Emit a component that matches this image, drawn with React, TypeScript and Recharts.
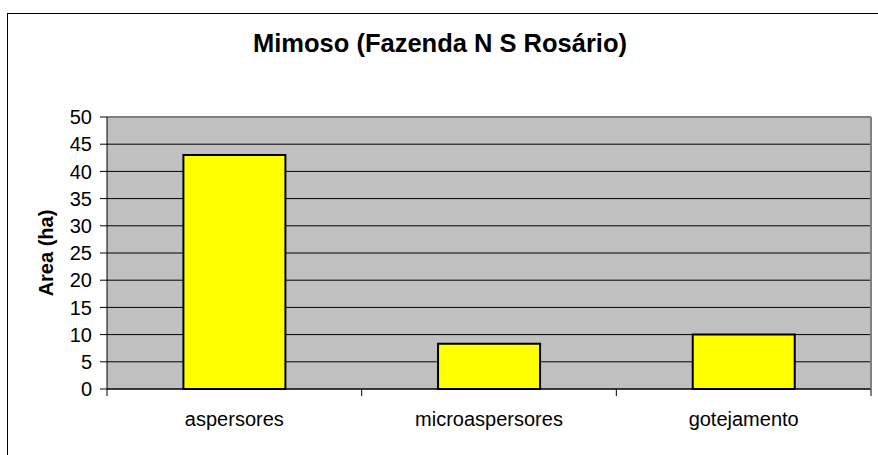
import React from "react";
import {
  BarChart,
  Bar,
  XAxis,
  YAxis,
  CartesianGrid,
  ReferenceLine,
  Label,
} from "recharts";

const categories = ["aspersores", "microaspersores", "gotejamento"];
const areaValues = [43, 8.3, 10];
const yTicks = [0, 5, 10, 15, 20, 25, 30, 35, 40, 45, 50];

const chartData = categories.map((name, i) => ({ name, area: areaValues[i] }));

const font = "Arial, 'Liberation Sans', sans-serif";
const X_TICK_SIZE = 6;
const X_TICK_MARGIN = 17;

// category label in the middle, tick marks on the category edges (Excel style)
const CategoryTick = (props: any) => {
  const { x, y, payload, index, visibleTicksCount, width } = props;
  const band = (width ?? 764) / (visibleTicksCount || categories.length);
  const axisY = y - X_TICK_SIZE - X_TICK_MARGIN;
  const left = x - band / 2;
  const right = x + band / 2;
  return (
    <g>
      <line x1={left} x2={left} y1={axisY} y2={axisY + 7} stroke="#000" />
      {index === visibleTicksCount - 1 && (
        <line x1={right} x2={right} y1={axisY} y2={axisY + 7} stroke="#000" />
      )}
      <text
        x={x}
        y={y}
        dy="0.71em"
        textAnchor="middle"
        fontSize={20}
        fontFamily={font}
        fill="#000"
      >
        {payload.value}
      </text>
    </g>
  );
};

export default function App() {
  return (
    <div
      style={{
        position: "absolute",
        left: 0,
        top: 0,
        width: 878,
        height: 455,
        overflow: "hidden",
        background: "#fff",
        fontFamily: font,
      }}
    >
      <div
        style={{
          position: "absolute",
          left: 7,
          top: 13,
          width: 900,
          height: 500,
          borderLeft: "1px solid #000",
          borderTop: "1px solid #000",
        }}
      />
      <div
        style={{
          position: "absolute",
          left: 0,
          top: 29,
          width: 880,
          textAlign: "center",
          fontSize: 25.5,
          fontWeight: "bold",
          color: "#000",
        }}
      >
        Mimoso (Fazenda N S Rosário)
      </div>
      <BarChart
        width={878}
        height={455}
        data={chartData}
        margin={{ top: 117, right: 0, bottom: 6, left: 0 }}
        barCategoryGap="30%"
        style={{ position: "absolute", left: 0, top: 0 }}
      >
        <CartesianGrid vertical={false} stroke="#000" fill="#C0C0C0" fillOpacity={1} />
        <XAxis
          dataKey="name"
          height={60}
          interval={0}
          tickLine={false}
          tickSize={X_TICK_SIZE}
          tickMargin={X_TICK_MARGIN}
          axisLine={{ stroke: "#000" }}
          tick={<CategoryTick />}
        />
        <YAxis
          width={107}
          domain={[0, 50]}
          ticks={yTicks}
          interval={0}
          tickSize={7}
          tickMargin={8}
          axisLine={{ stroke: "#000" }}
          tickLine={{ stroke: "#000" }}
          tick={{ fill: "#000", fontSize: 20, fontFamily: font }}
        >
          <Label
            content={() => (
              <text
                x={46}
                y={253}
                transform="rotate(-90 46 253)"
                textAnchor="middle"
                dominantBaseline="central"
                fontSize={20}
                fontWeight="bold"
                fontFamily={font}
                fill="#000"
              >
                Area (ha)
              </text>
            )}
          />
        </YAxis>
        <YAxis
          yAxisId="right"
          orientation="right"
          width={7}
          domain={[0, 50]}
          tick={false}
          tickLine={false}
          axisLine={{ stroke: "#808080", strokeWidth: 2 }}
        />
        <ReferenceLine y={50} stroke="#808080" strokeWidth={2} />
        <Bar
          dataKey="area"
          fill="#FFFF00"
          stroke="#000"
          strokeWidth={2}
          isAnimationActive={false}
        />
      </BarChart>
    </div>
  );
}
